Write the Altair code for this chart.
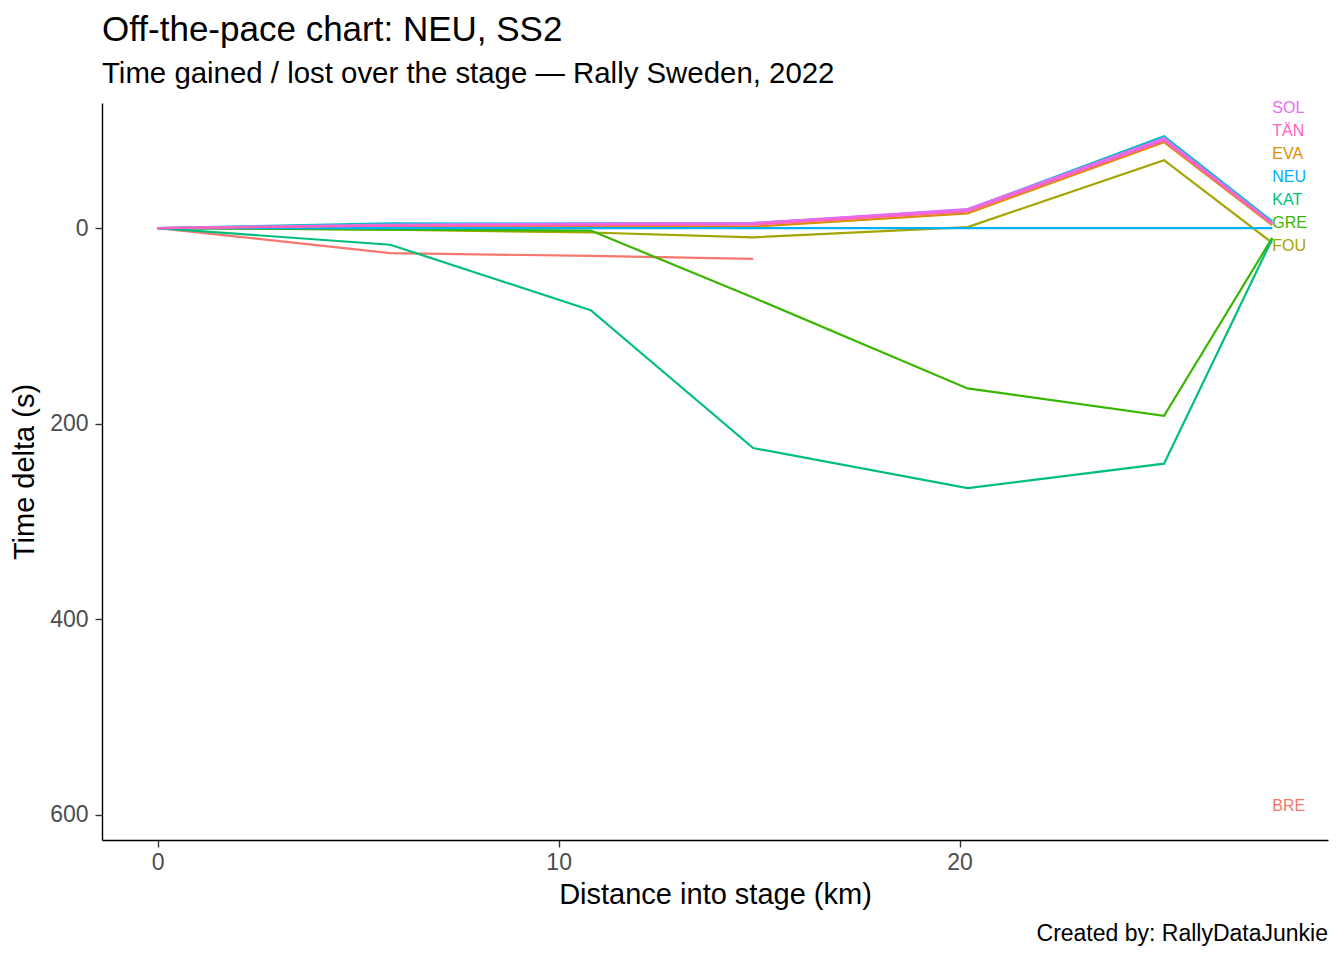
import altair as alt
import pandas as pd

# Split distances (km)
distances = [0, 5.8, 10.8, 14.85, 20.2, 25.1, 27.8]

drivers = ["BRE", "EVA", "FOU", "GRE", "KAT", "LAP", "NEU", "ROV", "SOL", "TÄN"]
colors = ["#F8766D", "#D89000", "#A3A500", "#39B600", "#00BF7D",
          "#00BFC4", "#00B0F6", "#9590FF", "#E76BF3", "#FF62BC"]

# Time delta (s) relative to NEU at each split
BRE = [0, 25.5, 28.5, 31.5]
EVA = [0, -1, -1.5, -1.5, -15, -88, -3]
FOU = [0, 1.5, 4.5, 9.5, -1, -69.5, 15]
GRE = [0, 1.5, 2.5, 71, 164, 192, 10]
KAT = [0, 17, 84, 225, 266, 241, 11]
LAP = [0, -5, -4.5, -4.5, -19, -94, -7]
NEU = [0, 0, 0, 0, 0, 0, 0]
ROV = [0, -3.5, -5, -5.5, -18, -91, -5]
SOL = [0, -3, -4, -5, -19.5, -92, -5]
TAN = [0, -2.5, -3, -3.5, -17, -89.5, -4]

series = {"BRE": BRE, "EVA": EVA, "FOU": FOU, "GRE": GRE, "KAT": KAT,
          "LAP": LAP, "NEU": NEU, "ROV": ROV, "SOL": SOL, "TÄN": TAN}

# End-of-line labels (repelled positions)
label_codes = ["SOL", "TÄN", "EVA", "NEU", "KAT", "GRE", "FOU", "BRE"]
label_y = [-122.7, -99.2, -75.7, -52.1, -28.6, -5.1, 18.4, 591]
label_x = 27.8

title = "Off-the-pace chart: NEU, SS2"
subtitle = "Time gained / lost over the stage — Rally Sweden, 2022"
caption = "Created by: RallyDataJunkie"

rows = []
for code, vals in series.items():
    for d, v in zip(distances, vals):
        rows.append({"code": code, "dist": d, "delta": v})
df = pd.DataFrame(rows)

lab = pd.DataFrame({"code": label_codes, "y": label_y, "x": [label_x] * len(label_codes)})
cap = pd.DataFrame({"t": [caption]})

FONT = "Liberation Sans"
W, H = 1226, 737

xscale = alt.Scale(domain=[-1.39, 29.19], nice=False, zero=False)
yscale = alt.Scale(domain=[-128, 626], nice=False, zero=False, reverse=True)
cscale = alt.Scale(domain=drivers, range=colors)

lines = alt.Chart(df).mark_line(strokeWidth=2.2).encode(
    x=alt.X("dist:Q", scale=xscale,
            axis=alt.Axis(title="Distance into stage (km)", values=[0, 10, 20],
                          titlePadding=6, labelPadding=4)),
    y=alt.Y("delta:Q", scale=yscale,
            axis=alt.Axis(title="Time delta (s)", values=[0, 200, 400, 600],
                          titlePadding=10, labelPadding=7)),
    color=alt.Color("code:N", scale=cscale, legend=None),
    order=alt.Order("dist:Q"),
)

labels = alt.Chart(lab).mark_text(align="left", baseline="middle", fontSize=16, font=FONT).encode(
    x=alt.X("x:Q", scale=xscale),
    y=alt.Y("y:Q", scale=yscale),
    text="code:N",
    color=alt.Color("code:N", scale=cscale, legend=None),
)

capt = alt.Chart(cap).mark_text(align="right", baseline="middle", fontSize=23, font=FONT,
                                color="black").encode(
    x=alt.value(W), y=alt.value(831), text="t:N"
)

chart = alt.layer(lines, labels, capt).properties(
    width=W, height=H,
    autosize=alt.AutoSizeParams(type="none"),
    padding={"left": 94, "top": 95, "right": 8, "bottom": 110},
    title=alt.TitleParams(text=title, subtitle=subtitle, anchor="start", frame="group",
                          font=FONT, fontSize=35, fontWeight="normal", color="black",
                          subtitleFont=FONT, subtitleFontSize=29.4, subtitleColor="black",
                          subtitlePadding=12, offset=12),
).configure(background="white").configure_view(strokeWidth=0, stroke="transparent").configure_axis(
    grid=False, domainColor="black", domainWidth=1.4, tickColor="#333333", tickWidth=1.4,
    tickSize=7, labelColor="#4D4D4D", labelFont=FONT, labelFontSize=23,
    titleFont=FONT, titleFontSize=29, titleFontWeight="normal", titleColor="black",
)

chart.save("out.html", embed_options={"renderer": "svg", "actions": False})
